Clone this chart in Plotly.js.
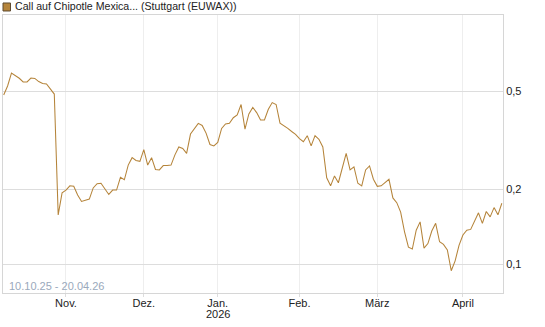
<!DOCTYPE html>
<html><head><meta charset="utf-8">
<script src="https://cdn.plot.ly/plotly-3.0.1.min.js"></script>
<style>html,body{margin:0;padding:0;background:#fff}#chart{width:545px;height:327px}</style>
</head><body><div id="chart"></div>
<script>
const seriesName = 'Call auf Chipotle Mexica... (Stuttgart (EUWAX))';
const rangeLabel = '10.10.25 - 20.04.26';
const dates = [
'2025-10-10','2025-10-13','2025-10-14','2025-10-15','2025-10-16','2025-10-17','2025-10-20','2025-10-21','2025-10-22','2025-10-23','2025-10-24','2025-10-27','2025-10-28','2025-10-29','2025-10-30','2025-10-31',
'2025-11-03','2025-11-04','2025-11-05','2025-11-06','2025-11-07','2025-11-10','2025-11-11','2025-11-12','2025-11-13','2025-11-14','2025-11-17','2025-11-18','2025-11-19','2025-11-20','2025-11-21','2025-11-24','2025-11-25','2025-11-26','2025-11-27','2025-11-28',
'2025-12-01','2025-12-02','2025-12-03','2025-12-04','2025-12-05','2025-12-08','2025-12-09','2025-12-10','2025-12-11','2025-12-12','2025-12-15','2025-12-16','2025-12-17','2025-12-18','2025-12-19','2025-12-22','2025-12-23','2025-12-29','2025-12-30',
'2026-01-02','2026-01-05','2026-01-06','2026-01-07','2026-01-08','2026-01-09','2026-01-12','2026-01-13','2026-01-14','2026-01-15','2026-01-16','2026-01-19','2026-01-20','2026-01-21','2026-01-22','2026-01-23','2026-01-26','2026-01-27','2026-01-28','2026-01-29','2026-01-30',
'2026-02-02','2026-02-03','2026-02-04','2026-02-05','2026-02-06','2026-02-09','2026-02-10','2026-02-11','2026-02-12','2026-02-13','2026-02-16','2026-02-17','2026-02-18','2026-02-19','2026-02-20','2026-02-23','2026-02-24','2026-02-25','2026-02-26','2026-02-27',
'2026-03-02','2026-03-03','2026-03-04','2026-03-05','2026-03-06','2026-03-09','2026-03-10','2026-03-11','2026-03-12','2026-03-13','2026-03-16','2026-03-17','2026-03-18','2026-03-19','2026-03-20','2026-03-23','2026-03-24','2026-03-25','2026-03-26','2026-03-27','2026-03-30','2026-03-31',
'2026-04-01','2026-04-02','2026-04-07','2026-04-08','2026-04-09','2026-04-10','2026-04-13','2026-04-14','2026-04-15','2026-04-16','2026-04-17'
];
const prices = [
0.482,0.524,0.591,0.578,0.563,0.544,0.544,0.564,0.562,0.546,
0.536,0.534,0.512,0.486,0.158,0.194,0.199,0.207,0.206,0.190,
0.179,0.181,0.183,0.203,0.211,0.212,0.201,0.191,0.199,0.199,
0.224,0.219,0.251,0.269,0.262,0.260,0.290,0.251,0.269,0.241,
0.240,0.250,0.250,0.251,0.276,0.297,0.293,0.280,0.335,0.354,
0.370,0.363,0.338,0.304,0.300,0.310,0.353,0.368,0.370,0.390,
0.400,0.441,0.351,0.404,0.429,0.409,0.382,0.382,0.422,0.449,
0.441,0.371,0.363,0.353,0.343,0.334,0.321,0.312,0.330,0.300,
0.330,0.319,0.297,0.223,0.207,0.227,0.213,0.244,0.280,0.240,
0.247,0.212,0.207,0.240,0.249,0.220,0.206,0.207,0.213,0.220,
0.185,0.177,0.162,0.135,0.117,0.115,0.137,0.148,0.116,0.121,
0.136,0.146,0.123,0.120,0.114,0.094,0.103,0.119,0.131,0.137,
0.138,0.149,0.161,0.146,0.163,0.155,0.169,0.158,0.176
];
const tickDates = ['2025-11-03','2025-12-01','2026-01-02','2026-02-02','2026-03-02','2026-04-01'];
const tickLabels = ['Nov.','Dez.','Jan.','Feb.','März','April'];
const yearLabel = '2026';
const yearDate = '2026-01-02';
const yTicks = [0.1, 0.2, 0.5];
const yTickLabels = ['0,1','0,2','0,5'];

const font = 'Liberation Sans, Arial, sans-serif';
const lineColor = '#b5843a';
const textColor = '#222222';

const trace = {
  x: dates, y: prices, type: 'scatter', mode: 'lines',
  line: {color: lineColor, width: 1.05}, hoverinfo: 'skip', showlegend: false
};

const layout = {
  width: 545, height: 327,
  margin: {l: 3, r: 42, t: 15, b: 34, pad: 0},
  paper_bgcolor: '#ffffff', plot_bgcolor: '#ffffff',
  font: {family: font, size: 11, color: textColor},
  separators: ',.',
  showlegend: false,
  xaxis: {
    type: 'category', range: [-0.18, 128.3],
    tickvals: tickDates, ticktext: tickLabels, tickangle: 0,
    showgrid: true, gridcolor: '#eeeeee', gridwidth: 1,
    ticks: 'outside', ticklen: 3, tickcolor: '#dddddd',
    ticklabelstandoff: -3,
    showline: true, linecolor: '#d6d6d6', linewidth: 1, mirror: true,
    zeroline: false, tickfont: {family: font, size: 11, color: textColor},
    fixedrange: true
  },
  yaxis: {
    type: 'log', side: 'right', range: [-1.117, 0.006],
    tickvals: yTicks, ticktext: yTickLabels,
    showgrid: true, gridcolor: '#dddddd', gridwidth: 1,
    ticks: '', showline: true, linecolor: '#d6d6d6', linewidth: 1, mirror: true,
    zeroline: false, tickfont: {family: font, size: 11, color: textColor},
    fixedrange: true
  },
  shapes: [{
    type: 'rect', xref: 'paper', yref: 'paper',
    x0: 0.0, x1: 0.015, y0: 1.0144, y1: 1.0432,
    fillcolor: lineColor, line: {color: '#5e4a30', width: 1}
  }],
  annotations: [
    {text: seriesName, xref: 'paper', yref: 'paper', x: 0.019, y: 1.031,
     xanchor: 'left', yanchor: 'middle', showarrow: false,
     font: {family: font, size: 10.6, color: textColor}},
    {text: rangeLabel, xref: 'paper', yref: 'paper', x: 0.008, y: 0.0234,
     xanchor: 'left', yanchor: 'middle', showarrow: false,
     font: {family: font, size: 11, color: '#9aa9bc'}},
    {text: yearLabel, xref: 'x', yref: 'paper', x: yearDate, y: -0.0755,
     xanchor: 'center', yanchor: 'middle', showarrow: false,
     font: {family: font, size: 11, color: textColor}}
  ]
};

Plotly.newPlot('chart', [trace], layout, {displayModeBar: false, staticPlot: true});
</script>
</body></html>
